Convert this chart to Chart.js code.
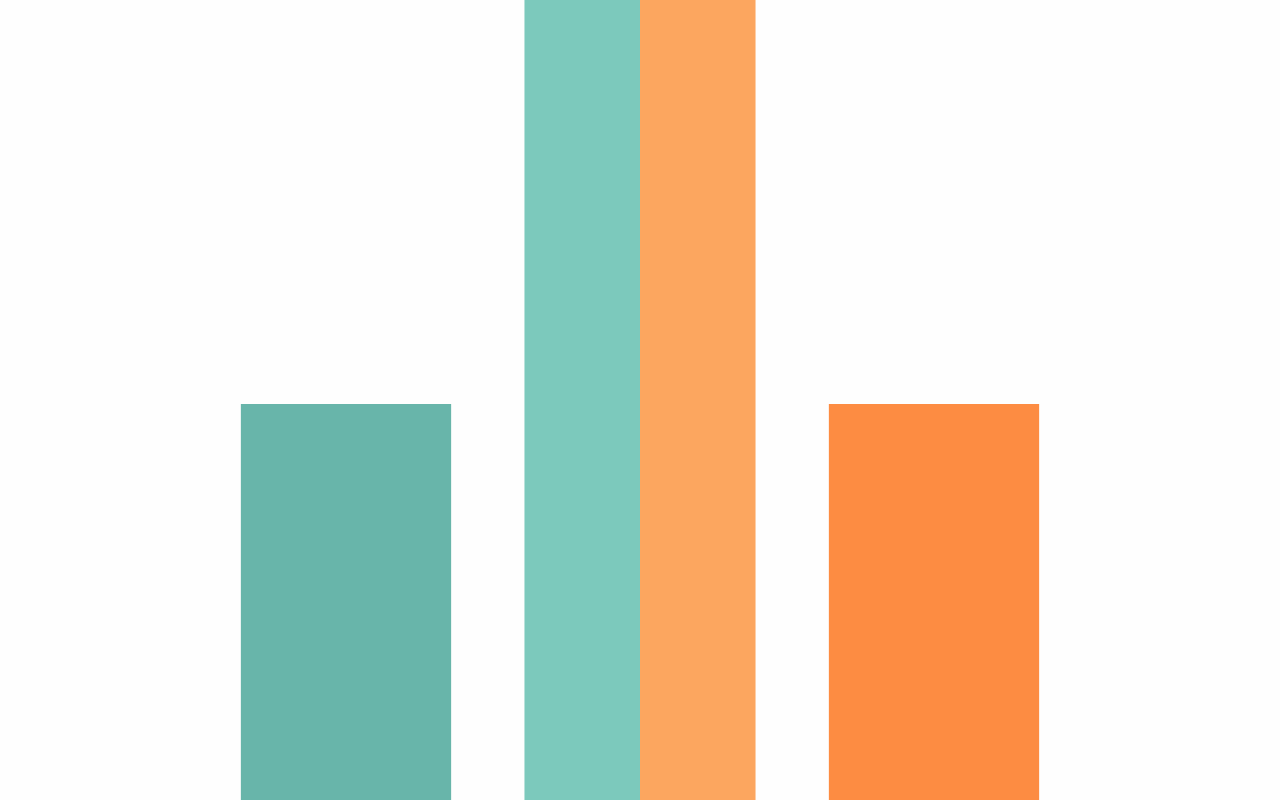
<!DOCTYPE html>
<html>
<head>
<meta charset="utf-8">
<title>Bars</title>
<script src="https://cdn.jsdelivr.net/npm/chart.js@4/dist/chart.umd.min.js"></script>
<style>
    html, body { margin: 0; padding: 0; background: #fefefe; }
    #wrap { width: 1280px; height: 800px; }
</style>
</head>
<body>
<div id="wrap"><canvas id="barChart"></canvas></div>
<script>
// --- Data ---
const categories = ['A', 'B', 'C'];
const seriesOne = [49.5, null, null];    // dark teal
const seriesTwo = [null, 100, null];     // light teal
const seriesThree = [null, 100, null];   // light orange
const seriesFour = [null, null, 49.5];   // orange
const yMin = 0;
const yMax = 100;

const ctx = document.getElementById('barChart').getContext('2d');
new Chart(ctx, {
    type: 'bar',
    data: {
        labels: categories,
        datasets: [
            { label: 'One', data: seriesOne, backgroundColor: '#68b5aa', barPercentage: 0.91 },
            { label: 'Two', data: seriesTwo, backgroundColor: '#7cc9bc', barPercentage: 1 },
            { label: 'Three', data: seriesThree, backgroundColor: '#fca65f', barPercentage: 1 },
            { label: 'Four', data: seriesFour, backgroundColor: '#fd8c42', barPercentage: 0.91 }
        ]
    },
    options: {
        responsive: true,
        maintainAspectRatio: false,
        animation: false,
        skipNull: true,
        categoryPercentage: 0.786,
        layout: { padding: { left: 199, right: 199, top: 0, bottom: 0 } },
        scales: {
            x: { display: false, grid: { display: false } },
            y: { display: false, min: yMin, max: yMax, grid: { display: false } }
        },
        plugins: {
            legend: { display: false },
            tooltip: { enabled: false }
        }
    }
});
</script>
</body>
</html>
